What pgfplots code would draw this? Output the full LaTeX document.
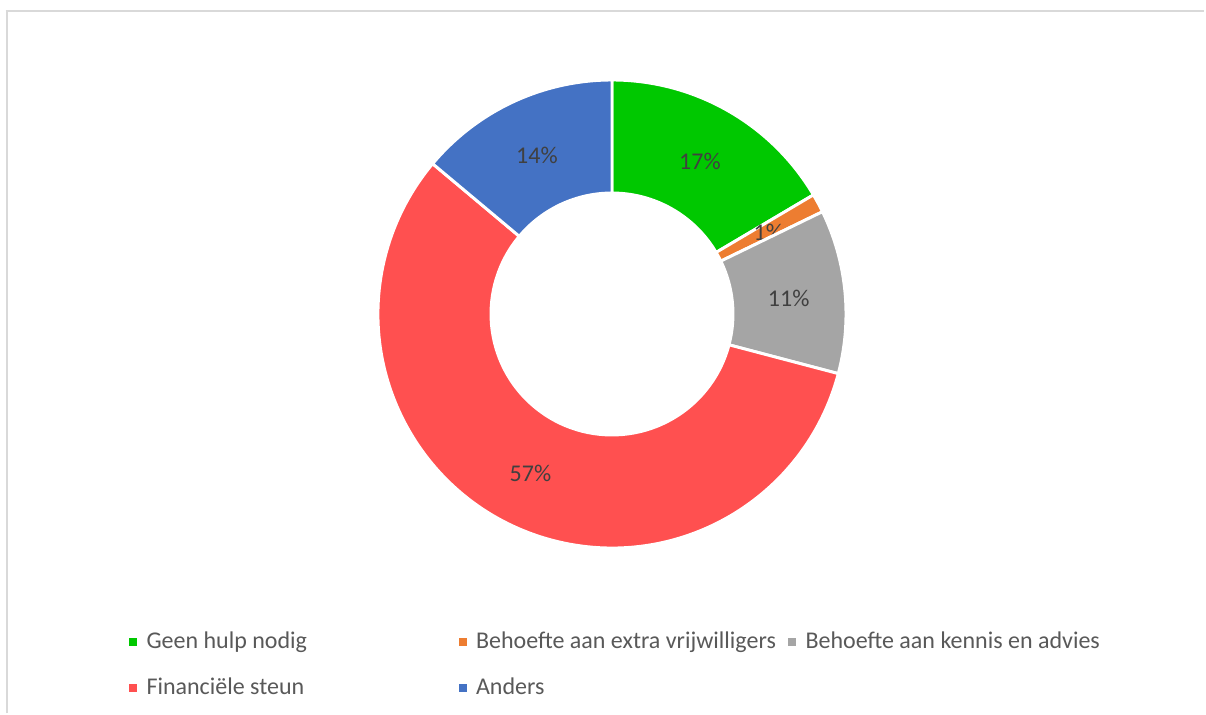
\documentclass[border=0pt]{standalone}
\usepackage{pgfplots}
\usepackage{pgfplotstable}
\pgfplotsset{compat=1.18}
\usepackage{fontspec}
\setmainfont{Carlito}
\definecolor{cgreen}{HTML}{00C800}
\definecolor{corange}{HTML}{ED7D31}
\definecolor{cgray}{HTML}{A5A5A5}
\definecolor{cred}{HTML}{FF5050}
\definecolor{cblue}{HTML}{4472C4}
\definecolor{legtext}{HTML}{595959}
\definecolor{labtext}{HTML}{404040}
\definecolor{frame}{HTML}{D9D9D9}

\pgfplotstableread{
value color label
16.5 cgreen 17
1.3 corange 1
11.3 cgray 11
57.0 cred 57
13.9 cblue 14
}\donut

\tikzset{labelfont/.style={font=\fontsize{18}{21}\selectfont, text=labtext}}

\newcommand\slice[4]{%
  \pgfmathsetmacro\sa{90-3.6*#1}%
  \pgfmathsetmacro\ea{90-3.6*#2}%
  \pgfmathsetmacro\ma{(\sa+\ea)/2}%
  \pgfmathsetmacro\oxs{234*cos(\sa)}\pgfmathsetmacro\oys{234*sin(\sa)}%
  \pgfmathsetmacro\ixe{121*cos(\ea)}\pgfmathsetmacro\iye{121*sin(\ea)}%
  \pgfmathsetmacro\lx{177.5*cos(\ma)}\pgfmathsetmacro\ly{177.5*sin(\ma)-2}%
  \edef\doslice{\noexpand\filldraw[fill=#3,draw=white,line width=2.2pt,line join=round] (axis cs:\oxs,\oys) arc[start angle=\sa,end angle=\ea,radius=175.5pt] -- (axis cs:\ixe,\iye) arc[start angle=\ea,end angle=\sa,radius=90.75pt] -- cycle;
   \noexpand\node[labelfont] at (axis cs:\lx,\ly) {#4};}%
  \doslice
}

\begin{document}
\begin{tikzpicture}
\begin{axis}[
  x=0.75pt, y=0.75pt,
  xmin=-612, xmax=594, ymin=-399, ymax=314,
  hide axis,
  clip=false,
  legend image code/.code={\fill[#1] (0pt,-2.6pt) rectangle (5.25pt,2.6pt);},
  legend columns=3,
  legend cell align=left,
  legend style={
    at={(axis cs:-483,-317)}, anchor=north west,
    draw=none, fill=none, inner sep=0pt, outer sep=0pt,
    row sep=18.5pt,
    nodes={inner sep=0pt, text=legtext, font=\fontsize{18}{21}\selectfont, text height=13pt, text depth=3pt},
    /tikz/every odd column/.style={column sep=7.5pt},
    /tikz/every even column/.style={column sep=0pt},
  },
]
\fill[white] (axis cs:-612,-399) rectangle (axis cs:594,314);
\draw[frame, line width=1.9pt] (axis cs:-605,-399) -- (axis cs:-605,303);
\draw[frame, line width=1.9pt] (axis cs:-606.3,303) -- (axis cs:592,303);
\def\cum{0}
\pgfplotsforeachungrouped \i in {0,...,4}{%
  \pgfplotstablegetelem{\i}{value}\of\donut \let\v\pgfplotsretval
  \pgfplotstablegetelem{\i}{color}\of\donut \let\c\pgfplotsretval
  \pgfplotstablegetelem{\i}{label}\of\donut \let\l\pgfplotsretval
  \pgfmathsetmacro\nc{\cum+\v}%
  \slice{\cum}{\nc}{\c}{\l\%}%
  \let\cum\nc
}
\addlegendimage{cgreen}\addlegendentry{\makebox[234pt][l]{Geen hulp nodig}}
\addlegendimage{corange}\addlegendentry{\makebox[234pt][l]{Behoefte aan extra vrijwilligers}}
\addlegendimage{cgray}\addlegendentry{Behoefte aan kennis en advies}
\addlegendimage{cred}\addlegendentry{\makebox[234pt][l]{Financiële steun}}
\addlegendimage{cblue}\addlegendentry{\makebox[234pt][l]{Anders}}
\end{axis}
\end{tikzpicture}
\end{document}
